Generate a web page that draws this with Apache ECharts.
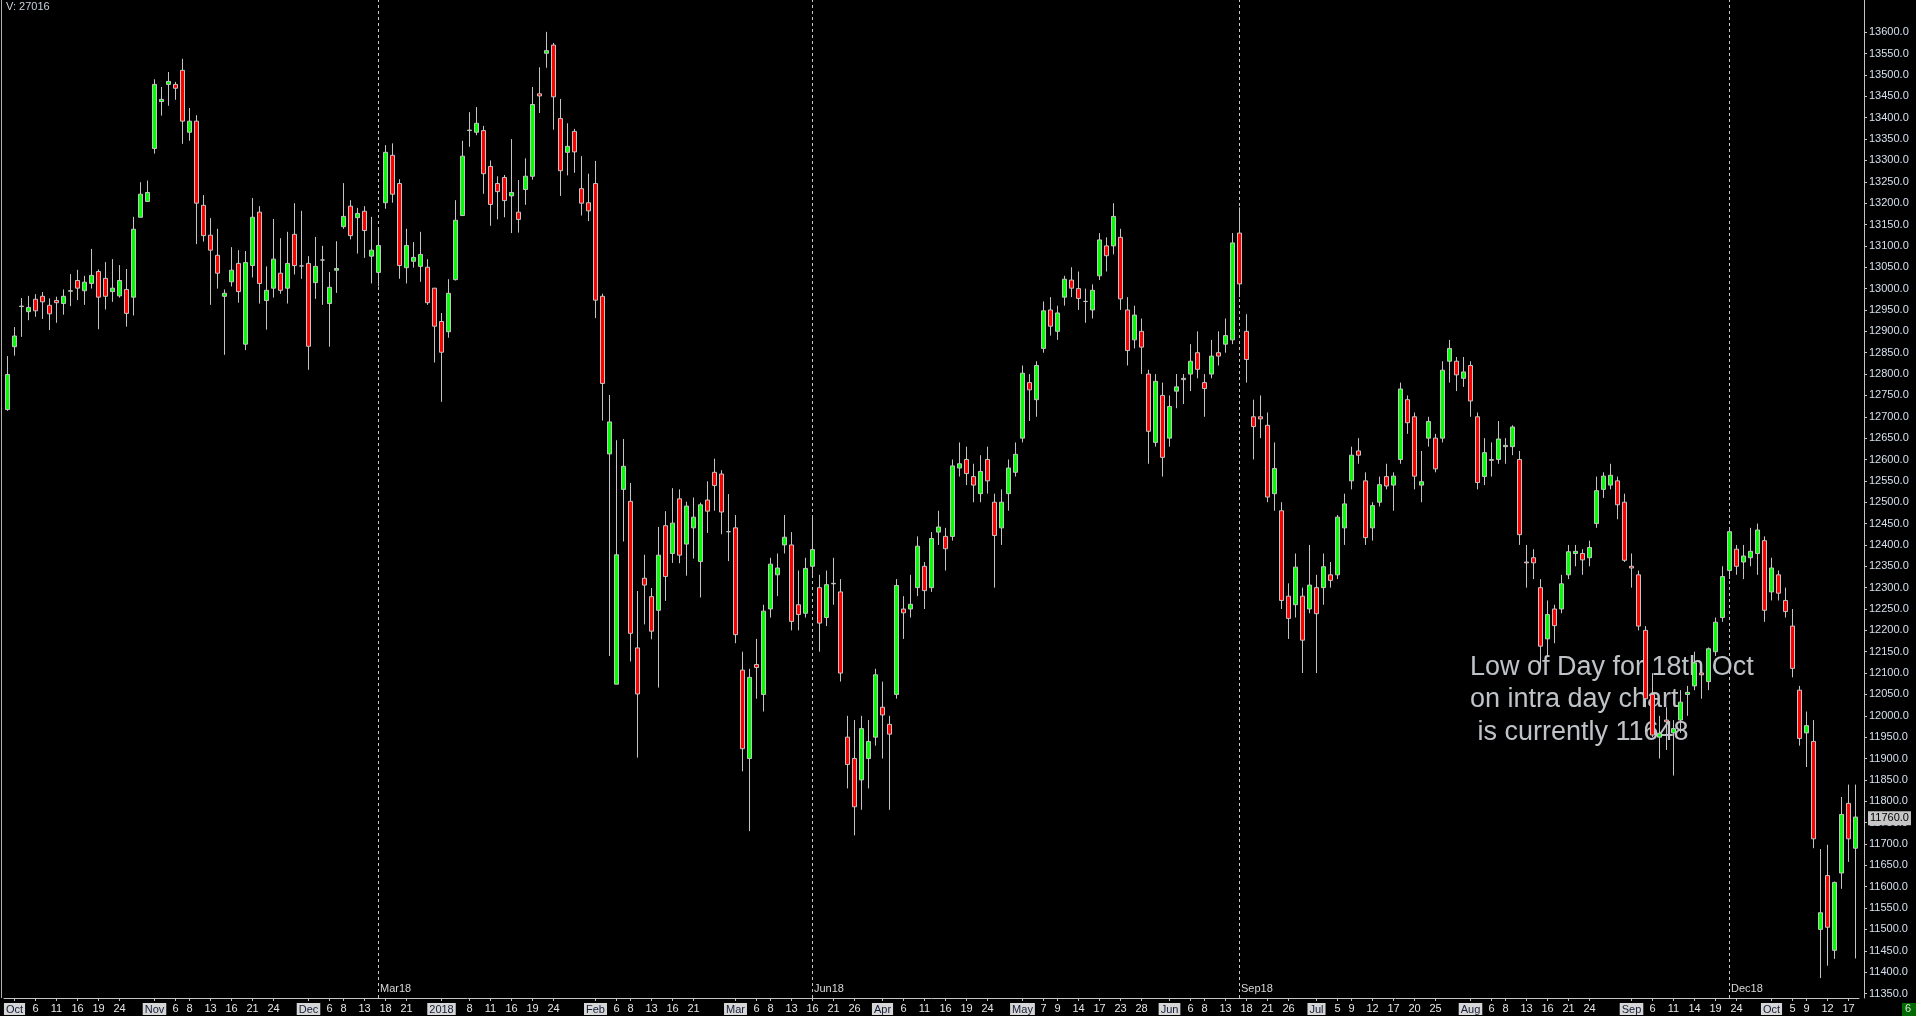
<!DOCTYPE html>
<html><head><meta charset="utf-8">
<script src="https://cdn.jsdelivr.net/npm/echarts@6/dist/echarts.min.js"></script>
<style>html,body{margin:0;padding:0;background:#000;overflow:hidden}#c{width:1916px;height:1016px}</style>
</head><body><div id="c"></div><script>
// trading days (categories)
const dates = [
'2017-09-29','2017-10-02','2017-10-04','2017-10-05','2017-10-06','2017-10-09','2017-10-10','2017-10-11','2017-10-12','2017-10-13','2017-10-16','2017-10-17','2017-10-18','2017-10-19','2017-10-20','2017-10-23','2017-10-24','2017-10-25','2017-10-26','2017-10-27','2017-10-30',
'2017-11-01','2017-11-02','2017-11-03','2017-11-06','2017-11-07','2017-11-08','2017-11-09','2017-11-10','2017-11-13','2017-11-14','2017-11-15','2017-11-16','2017-11-17','2017-11-20','2017-11-21','2017-11-22','2017-11-23','2017-11-24','2017-11-27','2017-11-28','2017-11-29','2017-11-30',
'2017-12-01','2017-12-04','2017-12-05','2017-12-06','2017-12-07','2017-12-08','2017-12-11','2017-12-12','2017-12-13','2017-12-14','2017-12-15','2017-12-18','2017-12-19','2017-12-20','2017-12-21','2017-12-22','2017-12-27','2017-12-28','2017-12-29',
'2018-01-02','2018-01-03','2018-01-04','2018-01-05','2018-01-08','2018-01-09','2018-01-10','2018-01-11','2018-01-12','2018-01-15','2018-01-16','2018-01-17','2018-01-18','2018-01-19','2018-01-22','2018-01-23','2018-01-24','2018-01-25','2018-01-26','2018-01-29','2018-01-30','2018-01-31',
'2018-02-01','2018-02-02','2018-02-05','2018-02-06','2018-02-07','2018-02-08','2018-02-09','2018-02-12','2018-02-13','2018-02-14','2018-02-15','2018-02-16','2018-02-19','2018-02-20','2018-02-21','2018-02-22','2018-02-23','2018-02-26','2018-02-27','2018-02-28',
'2018-03-01','2018-03-02','2018-03-05','2018-03-06','2018-03-07','2018-03-08','2018-03-09','2018-03-12','2018-03-13','2018-03-14','2018-03-15','2018-03-16','2018-03-19','2018-03-20','2018-03-21','2018-03-22','2018-03-23','2018-03-26','2018-03-27','2018-03-28','2018-03-29',
'2018-04-03','2018-04-04','2018-04-05','2018-04-06','2018-04-09','2018-04-10','2018-04-11','2018-04-12','2018-04-13','2018-04-16','2018-04-17','2018-04-18','2018-04-19','2018-04-20','2018-04-23','2018-04-24','2018-04-25','2018-04-26','2018-04-27','2018-04-30',
'2018-05-02','2018-05-03','2018-05-04','2018-05-07','2018-05-08','2018-05-09','2018-05-10','2018-05-11','2018-05-14','2018-05-15','2018-05-16','2018-05-17','2018-05-18','2018-05-22','2018-05-23','2018-05-24','2018-05-25','2018-05-28','2018-05-29','2018-05-30','2018-05-31',
'2018-06-01','2018-06-04','2018-06-05','2018-06-06','2018-06-07','2018-06-08','2018-06-11','2018-06-12','2018-06-13','2018-06-14','2018-06-15','2018-06-18','2018-06-19','2018-06-20','2018-06-21','2018-06-22','2018-06-25','2018-06-26','2018-06-27','2018-06-28','2018-06-29',
'2018-07-02','2018-07-03','2018-07-04','2018-07-05','2018-07-06','2018-07-09','2018-07-10','2018-07-11','2018-07-12','2018-07-13','2018-07-16','2018-07-17','2018-07-18','2018-07-19','2018-07-20','2018-07-23','2018-07-24','2018-07-25','2018-07-26','2018-07-27','2018-07-30','2018-07-31',
'2018-08-01','2018-08-02','2018-08-03','2018-08-06','2018-08-07','2018-08-08','2018-08-09','2018-08-10','2018-08-13','2018-08-14','2018-08-15','2018-08-16','2018-08-17','2018-08-20','2018-08-21','2018-08-22','2018-08-23','2018-08-24','2018-08-27','2018-08-28','2018-08-29','2018-08-30','2018-08-31',
'2018-09-03','2018-09-04','2018-09-05','2018-09-06','2018-09-07','2018-09-10','2018-09-11','2018-09-12','2018-09-13','2018-09-14','2018-09-17','2018-09-18','2018-09-19','2018-09-20','2018-09-21','2018-09-24','2018-09-25','2018-09-26','2018-09-27','2018-09-28',
'2018-10-01','2018-10-02','2018-10-04','2018-10-05','2018-10-08','2018-10-09','2018-10-10','2018-10-11','2018-10-12','2018-10-15','2018-10-16','2018-10-17','2018-10-18'
];
// [open, high, low, close]
const ohlc = [
[12717,12842,12714,12799],
[12864,12910,12843,12889],[12958,12978,12887,12959],[12946,12983,12926,12956],[12975,12987,12934,12948],[12982,12992,12929,12969],
[12961,12977,12903,12941],[12972,12981,12920,12967],[12965,12998,12939,12982],[12994,13034,12959,12995],[13019,13044,12973,13001],
[12995,13030,12962,13015],[13012,13093,13000,13031],[13040,13045,12905,12980],[13024,13062,12951,12982],[12993,13069,12969,13001],
[12983,13055,12979,13019],[12998,13046,12911,12942],[12980,13168,12937,13139],[13167,13249,13167,13221],[13204,13253,13204,13225],
// Nov
[13328,13490,13316,13478],[13438,13472,13405,13443],[13478,13507,13428,13485],[13478,13484,13442,13469],[13511,13538,13339,13392],
[13366,13423,13346,13392],[13392,13406,13104,13200],[13195,13219,13110,13124],[13125,13165,12962,13090],[13078,13140,13000,13036],
[12982,12998,12845,12989],[13016,13097,13005,13043],[13059,13090,12967,12993],[12870,13088,12856,13061],[13054,13212,13026,13167],
[13179,13193,12965,13012],[12972,13052,12904,12996],[13001,13163,12979,13069],[13036,13118,12988,12996],[13001,13133,12965,13059],
[13127,13200,13033,13054],[13053,13182,13023,13053],
// Dec
[13059,13076,12810,12865],[13014,13121,12976,13052],[13067,13100,12962,13067],[12965,13039,12864,13003],[13043,13111,12990,13047],
[13145,13247,13140,13169],[13193,13207,13115,13124],[13166,13189,13082,13176],[13181,13193,13072,13136],[13076,13168,13012,13090],
[13038,13142,13005,13101],[13201,13336,13187,13319],[13312,13340,13201,13221],[13246,13256,13023,13054],[13049,13140,13012,13101],
[13064,13109,13049,13073],[13052,13133,13016,13080],[13050,13069,12962,12967],[13001,13001,12827,12912],
// Jan
[12923,12943,12735,12851],[12899,13022,12885,12989],[13021,13207,13019,13160],[13171,13346,13170,13310],[13370,13413,13332,13371],
[13366,13425,13359,13387],[13370,13381,13222,13269],[13286,13300,13147,13197],[13246,13263,13162,13227],[13260,13266,13167,13206],
[13217,13350,13130,13225],[13179,13254,13131,13162],[13232,13305,13196,13263],[13263,13472,13255,13431],[13456,13518,13411,13451],
[13551,13601,13517,13557],[13570,13575,13372,13449],[13398,13444,13217,13276],[13319,13387,13265,13333],[13368,13374,13271,13320],
[13234,13310,13171,13200],[13201,13269,13158,13182],
// Feb
[13246,13299,12931,12973],[12982,12988,12691,12778],[12613,12751,12140,12688],[12074,12645,12074,12377],[12530,12648,12408,12584],
[12502,12545,12127,12193],[12159,12292,11902,12051],[12322,12377,12214,12306],[12279,12299,12179,12198],[12247,12442,12066,12376],
[12445,12479,12269,12326],[12380,12533,12358,12451],[12508,12530,12357,12376],[12402,12501,12328,12491],[12440,12511,12368,12465],
[12361,12499,12277,12494],[12505,12549,12428,12479],[12570,12602,12480,12539],[12566,12575,12425,12477],[12431,12519,12362,12431],
// Mar
[12440,12470,12170,12190],[12107,12150,11870,11923],[11900,12110,11730,12090],[12120,12180,12040,12113],[12050,12260,12010,12245],
[12250,12370,12230,12355],[12330,12380,12280,12346],[12400,12470,12380,12418],[12400,12430,12200,12221],[12260,12340,12200,12237],
[12240,12370,12230,12345],[12350,12470,12330,12389],[12300,12330,12150,12217],[12230,12340,12210,12307],[12310,12370,12260,12309],
[12290,12320,12080,12100],[11950,12000,11830,11886],[11900,11990,11720,11787],[11850,12000,11780,11970],[11900,11990,11830,11940],
[11950,12110,11930,12096],
// Apr
[12020,12080,11900,12002],[11980,12000,11780,11957],[12050,12320,12040,12305],[12250,12280,12180,12241],[12250,12330,12230,12261],
[12300,12420,12280,12397],[12350,12360,12250,12293],[12300,12430,12290,12415],[12430,12480,12400,12442],[12420,12440,12340,12391],
[12420,12600,12410,12585],[12580,12640,12560,12590],[12600,12630,12540,12567],[12560,12590,12500,12540],[12520,12610,12500,12572],
[12600,12630,12520,12550],[12500,12520,12300,12422],[12440,12530,12400,12500],[12520,12600,12480,12580],[12570,12640,12560,12612],
// May
[12650,12820,12640,12802],[12780,12800,12690,12763],[12740,12830,12700,12820],[12860,12970,12850,12948],[12950,12980,12890,12912],
[12900,12960,12880,12943],[12980,13030,12960,13022],[13020,13050,12980,13001],[13000,13040,12950,12977],[12970,13000,12920,12970],
[12950,13010,12930,12996],[13030,13130,13020,13114],[13100,13120,13040,13077],[13100,13200,13080,13169],[13120,13140,12950,12976],
[12950,12980,12820,12855],[12880,12960,12860,12938],[12900,12930,12800,12863],[12800,12810,12590,12666],[12640,12800,12630,12783],
[12750,12780,12560,12605],
// Jun
[12650,12750,12630,12724],[12760,12800,12720,12770],[12790,12800,12730,12787],[12800,12870,12760,12830],[12850,12900,12790,12811],
[12780,12800,12700,12766],[12800,12880,12790,12842],[12850,12900,12820,12842],[12870,12930,12850,12890],[12880,13130,12870,13107],
[13130,13190,12980,13011],[12900,12940,12780,12834],[12700,12740,12600,12677],[12700,12750,12650,12695],[12680,12710,12500,12512],
[12520,12640,12480,12579],[12480,12500,12250,12270],[12280,12310,12180,12228],[12260,12380,12230,12348],[12280,12300,12100,12177],
[12250,12400,12240,12306],
// Jul
[12300,12330,12100,12239],[12300,12380,12260,12349],[12330,12360,12300,12317],[12330,12470,12320,12465],[12440,12520,12400,12496],
[12550,12630,12530,12610],[12620,12650,12590,12610],[12550,12570,12400,12417],[12440,12500,12410,12492],[12500,12560,12490,12541],
[12560,12590,12530,12538],[12540,12570,12480,12561],[12600,12780,12590,12765],[12740,12750,12660,12686],[12700,12710,12530,12561],
[12540,12620,12500,12548],[12650,12700,12630,12689],[12650,12660,12570,12578],[12650,12830,12640,12809],[12830,12880,12780,12860],
[12830,12840,12760,12798],[12790,12840,12770,12805],
// Aug
[12820,12830,12700,12737],[12700,12710,12530,12546],[12560,12650,12540,12616],[12600,12640,12560,12598],[12600,12690,12590,12648],
[12630,12650,12590,12633],[12630,12680,12610,12676],[12600,12620,12400,12424],[12360,12400,12300,12358],[12370,12390,12320,12358],
[12300,12320,12110,12163],[12180,12270,12140,12237],[12250,12260,12170,12211],[12250,12330,12240,12309],[12330,12400,12320,12384],
[12380,12400,12350,12385],[12380,12390,12330,12365],[12370,12410,12350,12394],[12450,12560,12440,12527],[12530,12570,12510,12561],
[12540,12590,12530,12563],[12550,12560,12460,12494],[12500,12520,12360,12364],
// Sep
[12350,12380,12300,12346],[12330,12340,12200,12210],[12200,12210,12020,12040],[12050,12100,11950,11955],[11950,12000,11900,11959],
[11990,12020,11920,11986],[11960,11990,11860,11970],[11990,12060,11960,12032],[12050,12070,12000,12055],[12070,12150,12060,12124],
[12100,12110,12040,12096],[12080,12160,12060,12157],[12150,12230,12140,12219],[12230,12350,12220,12326],[12340,12440,12320,12431],
[12390,12400,12330,12350],[12360,12400,12320,12374],[12370,12440,12350,12385],[12380,12450,12330,12435],[12410,12420,12220,12247],
// Oct
[12290,12370,12270,12346],[12330,12340,12270,12287],[12270,12300,12230,12244],[12210,12250,12090,12111],[12060,12070,11930,11947],
[11960,12010,11880,11977],[11940,11990,11690,11712],[11500,11688,11386,11539],[11626,11698,11415,11505],[11451,11612,11431,11610],
[11632,11810,11595,11769],[11795,11839,11658,11712],[11690,11839,11432,11763]
];
const yTicks = [11350,11400,11450,11500,11550,11600,11650,11700,11750,11800,11850,11900,11950,12000,12050,12100,12150,12200,12250,12300,12350,12400,12450,12500,12550,12600,12650,12700,12750,12800,12850,12900,12950,13000,13050,13100,13150,13200,13250,13300,13350,13400,13450,13500,13550,13600];
const xTickDates = ['2017-10-02','2017-10-06','2017-10-11','2017-10-16','2017-10-19','2017-10-24','2017-11-01','2017-11-06','2017-11-08','2017-11-13','2017-11-16','2017-11-21','2017-11-24','2017-12-01','2017-12-06','2017-12-08','2017-12-13','2017-12-18','2017-12-21','2018-01-02','2018-01-08','2018-01-11','2018-01-16','2018-01-19','2018-01-24','2018-02-01','2018-02-06','2018-02-08','2018-02-13','2018-02-16','2018-02-21','2018-03-01','2018-03-06','2018-03-08','2018-03-13','2018-03-16','2018-03-21','2018-03-26','2018-04-03','2018-04-06','2018-04-11','2018-04-16','2018-04-19','2018-04-24','2018-05-02','2018-05-07','2018-05-09','2018-05-14','2018-05-17','2018-05-23','2018-05-28','2018-06-01','2018-06-06','2018-06-08','2018-06-13','2018-06-18','2018-06-21','2018-06-26','2018-07-02','2018-07-05','2018-07-09','2018-07-12','2018-07-17','2018-07-20','2018-07-25','2018-08-01','2018-08-06','2018-08-08','2018-08-13','2018-08-16','2018-08-21','2018-08-24','2018-09-03','2018-09-06','2018-09-11','2018-09-14','2018-09-19','2018-09-24','2018-10-01','2018-10-05','2018-10-09','2018-10-12','2018-10-17'];
const xTickTexts = ['Oct','6','11','16','19','24','Nov','6','8','13','16','21','24','Dec','6','8','13','18','21','2018','8','11','16','19','24','Feb','6','8','13','16','21','Mar','6','8','13','16','21','26','Apr','6','11','16','19','24','May','7','9','14','17','23','28','Jun','6','8','13','18','21','26','Jul','5','9','12','17','20','25','Aug','6','8','13','16','21','24','Sep','6','11','14','19','24','Oct','5','9','12','17'];
const monthTexts = ['Oct','Nov','Dec','2018','Feb','Mar','Apr','May','Jun','Jul','Aug','Sep'];
const rollDates = ['2017-12-15','2018-03-16','2018-06-15','2018-09-21'];
const rollNames = ['Mar18','Jun18','Sep18','Dec18'];
const lastPrice = 11760;
const volumeText = 'V: 27016';
const noteLines = ['Low of Day for 18th Oct','on intra day chart',' is currently 11648'];

const FONT = 'Liberation Sans, Arial, sans-serif';
const tickMap = {};
xTickDates.forEach((d, i) => { tickMap[d] = xTickTexts[i]; });
const chart = echarts.init(document.getElementById('c'));
chart.setOption({
  animation: false,
  backgroundColor: '#000000',
  grid: { left: 4, right: 57, top: 0, bottom: 18 },
  xAxis: {
    type: 'category', data: dates, boundaryGap: true,
    axisLine: { show: true, lineStyle: { color: '#c4c4c4', width: 1 } },
    axisTick: { show: true, alignWithLabel: true, length: 3, lineStyle: { color: '#c4c4c4' },
      interval: (i, v) => tickMap[v] !== undefined },
    axisLabel: {
      interval: (i, v) => tickMap[v] !== undefined,
      margin: 5, color: '#e6e6e6', fontSize: 11, fontFamily: FONT,
      formatter: (v) => { const t = tickMap[v]; if (t === undefined) return ''; return monthTexts.indexOf(t) >= 0 ? '{m|' + t + '}' : t; },
      rich: { m: { backgroundColor: '#d6d6d6', color: '#141c38', fontSize: 11, fontFamily: FONT, padding: [1, 2, 0, 2], lineHeight: 12 } }
    },
    splitLine: { show: false }
  },
  yAxis: {
    type: 'value', position: 'right', offset: 5, scale: true,
    min: 11339.4, max: 13675.6,
    axisLine: { show: true, lineStyle: { color: '#c4c4c4', width: 1 } },
    axisTick: { show: true, length: 3, lineStyle: { color: '#c4c4c4' }, customValues: yTicks },
    axisLabel: { color: '#d4e0ee', fontSize: 11, fontFamily: FONT, margin: 5, customValues: yTicks,
      formatter: (v) => Number(v).toFixed(1) },
    splitLine: { show: false }
  },
  graphic: [
    { type: 'line', z: 0, shape: { x1: 1.5, y1: 0, x2: 1.5, y2: 998 }, style: { stroke: '#b0b0b0', lineWidth: 1 } },
    { type: 'text', z: 0, left: 6, top: 1, style: { text: volumeText, fill: '#c8d2de', font: '11px ' + FONT } },
    { type: 'text', z: 0, left: 1470, top: 651, style: { text: noteLines.join('\n'), fill: '#bfc3c8', font: '27px ' + FONT, lineHeight: 32.5 } },
    { type: 'rect', z: 0, shape: { x: 1902, y: 1003, width: 14, height: 13 }, style: { fill: '#006b00' } },
    { type: 'text', z: 1, left: 1905, top: 1003, style: { text: '6', fill: '#e0e0e0', font: '11px ' + FONT } }
  ],
  series: [{
    type: 'candlestick',
    barWidth: 4,
    z: 5,
    data: ohlc.map(p => [p[0], p[3], p[2], p[1]]),
    itemStyle: { color: '#00ff00', color0: '#ff0000', borderColor: '#c4c4c4', borderColor0: '#c4c4c4', borderColorDoji: '#c4c4c4', borderWidth: 1 },
    markLine: {
      silent: true, symbol: ['none', 'none'], animation: false,
      data: rollDates.map(d => ({ xAxis: d, lineStyle: { color: '#c8c8c8', type: [3, 3], width: 1 }, label: { show: false } }))
        .concat([{ yAxis: lastPrice, lineStyle: { color: 'rgba(0,0,0,0)', width: 0 },
          label: { show: true, position: 'end', distance: 9, formatter: lastPrice.toFixed(1), color: '#000000', backgroundColor: '#c6c6c6', padding: [2, 2, 1, 2], fontSize: 11, fontFamily: FONT } }])
    },
    markPoint: {
      silent: true, symbol: 'rect', symbolSize: 1, itemStyle: { color: 'rgba(0,0,0,0)' },
      data: rollDates.map((d, i) => ({ name: rollNames[i], coord: [d, 11360] })),
      label: { show: true, position: 'right', distance: 1, formatter: '{b}', color: '#d8d8d8', fontSize: 11, fontFamily: FONT }
    }
  }]
});
</script></body></html>
